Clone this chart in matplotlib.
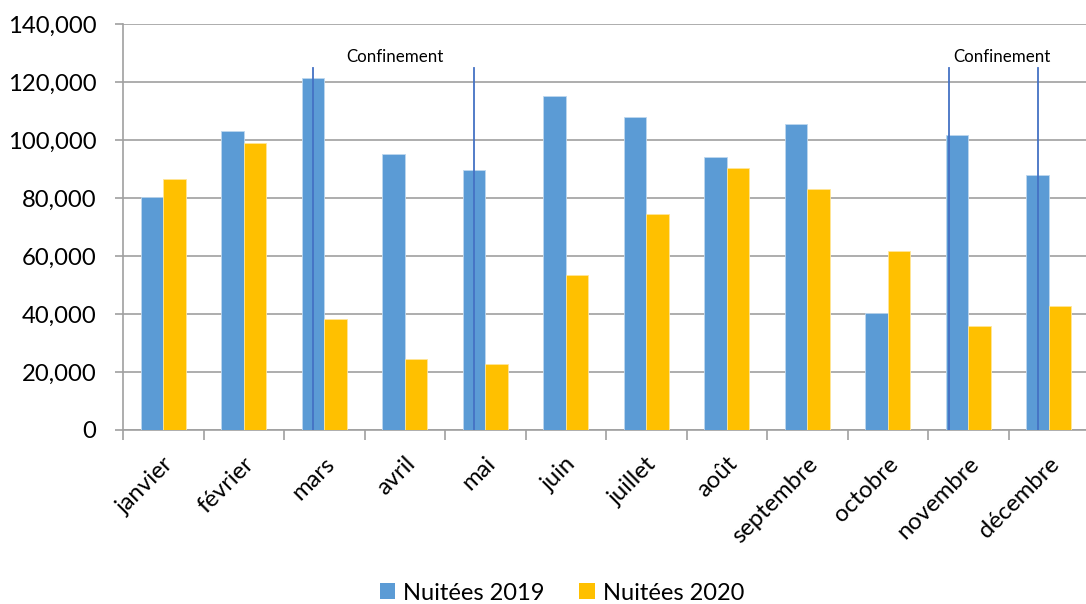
import matplotlib
matplotlib.use("Agg")
import matplotlib.pyplot as plt
import numpy as np
from matplotlib.ticker import FuncFormatter, FixedLocator
from matplotlib.patches import Patch

months = ["janvier", "février", "mars", "avril", "mai", "juin", "juillet",
          "août", "septembre", "octobre", "novembre", "décembre"]
nuitees_2019 = [80300, 103100, 121400, 95200, 89500, 115200, 107800,
                94200, 105400, 40200, 101700, 88000]
nuitees_2020 = [86600, 98900, 38300, 24400, 22800, 53600, 74500,
                90400, 83000, 61700, 36000, 42700]
# confinement start/end markers, in category units
confinement_lines = [1.857, 3.860, 9.757, 10.866]
confinement_labels = [(2.88, "Confinement"), (10.415, "Confinement")]
line_top = 124800
label_y = 128600

plt.rcParams['font.family'] = ['Lato', 'DejaVu Sans']

W, H = 1086, 604
fig = plt.figure(figsize=(W / 100, H / 100), dpi=100)
ax = fig.add_axes([123 / W, 1 - 430 / H, (W - 123) / W, (430 - 24) / H])

x = np.arange(len(months))
bw = 0.28
blue = "#5B9BD5"
orange = "#FFC000"
ax.bar(x - bw / 2, nuitees_2019, width=bw, color=blue, edgecolor="#BDD7EE",
       linewidth=0.6, zorder=3)
ax.bar(x + bw / 2, nuitees_2020, width=bw, color=orange, edgecolor="#FFE699",
       linewidth=0.6, zorder=3)

for lx in confinement_lines:
    ax.plot([lx, lx], [0, line_top], color="#4472C4", linewidth=1.3, zorder=4)
for tx, t in confinement_labels:
    ax.text(tx, label_y, t, ha="center", va="center", fontsize=12.2,
            color="black")

span = (W - 123) / 80.5
ax.set_xlim(-0.5, -0.5 + span)
ax.set_ylim(0, 140000)
ax.set_yticks(np.arange(0, 140001, 20000))
ax.yaxis.set_major_formatter(FuncFormatter(lambda v, p: f"{int(v):,}"))
ax.grid(axis="y", color="#A0A0A0", linewidth=1.2, zorder=0)
ax.set_axisbelow(True)

ax.set_xticks(x)
ax.set_xticklabels(months, rotation=45, ha="right", va="center",
                   rotation_mode="anchor", fontsize=17.2)
ax.xaxis.set_minor_locator(FixedLocator(np.arange(-0.5, 12, 1.0)))
ax.tick_params(axis="x", which="major", length=0, pad=22)
ax.tick_params(axis="x", which="minor", length=7, width=1.2, color="#A0A0A0")
ax.tick_params(axis="y", length=6, width=1.2, color="#A0A0A0", labelsize=17.2,
               pad=13)
for lab in ax.get_xticklabels():
    lab.set_transform(lab.get_transform() +
                      matplotlib.transforms.ScaledTranslation(7 / 100, 0, fig.dpi_scale_trans))

for s in ["top", "right"]:
    ax.spines[s].set_visible(False)
ax.spines["left"].set_color("#A0A0A0")
ax.spines["bottom"].set_color("#A0A0A0")
ax.spines["left"].set_linewidth(1.2)
ax.spines["bottom"].set_linewidth(1.2)

handles = [Patch(facecolor=blue, label="Nuitées 2019"),
           Patch(facecolor=orange, label="Nuitées 2020")]
fig.legend(handles=handles, loc="center", bbox_to_anchor=(562 / W, 1 - 593 / H),
           ncol=2, frameon=False, fontsize=17, handlelength=0.65,
           handleheight=0.65, handletextpad=0.34, columnspacing=1.45)

fig.savefig("out.png", dpi=100)
